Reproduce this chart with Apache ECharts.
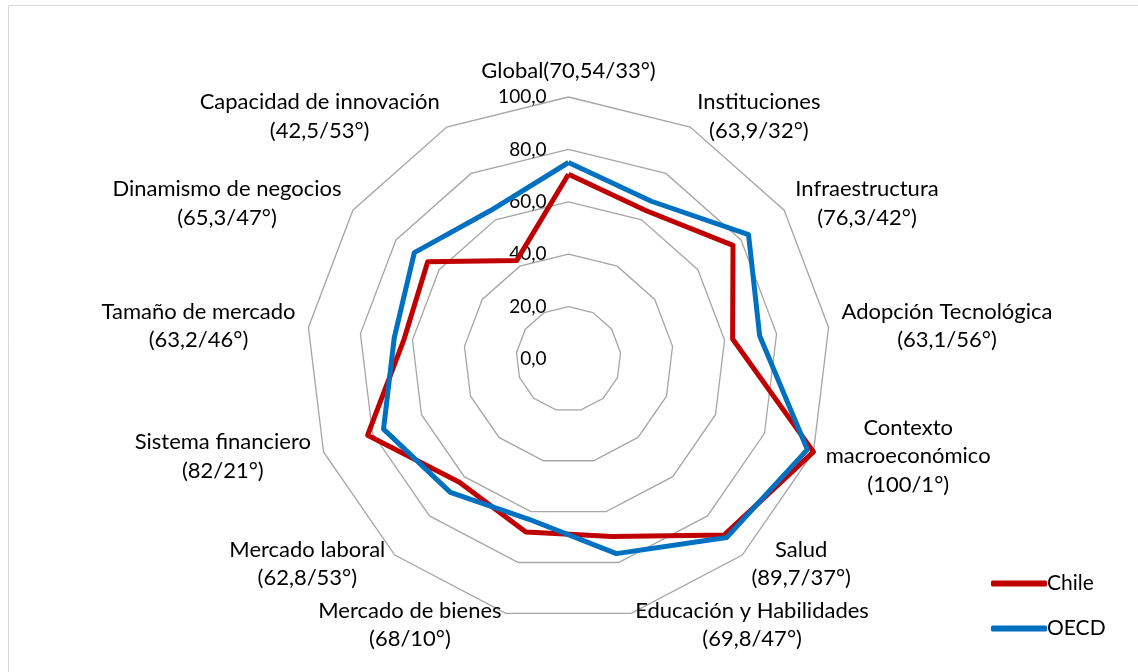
<!DOCTYPE html>
<html>
<head>
<meta charset="utf-8">
<script src="https://cdn.jsdelivr.net/npm/echarts@6/dist/echarts.min.js"></script>
<style>
html,body{margin:0;padding:0;background:#fff;}
#c{width:1138px;height:672px;}
</style>
</head>
<body>
<div id="c"></div>
<script>
// Categories in clockwise order starting at the top
var categories = [
  'Global(70,54/33°)',
  'Instituciones\n(63,9/32°)',
  'Infraestructura\n(76,3/42°)',
  'Adopción Tecnológica\n(63,1/56°)',
  'Contexto\nmacroeconómico\n(100/1°)',
  'Salud\n(89,7/37°)',
  'Educación y Habilidades\n(69,8/47°)',
  'Mercado de bienes\n(68/10°)',
  'Mercado laboral\n(62,8/53°)',
  'Sistema financiero\n(82/21°)',
  'Tamaño de mercado\n(63,2/46°)',
  'Dinamismo de negocios\n(65,3/47°)',
  'Capacidad de innovación\n(42,5/53°)'
];
var chileValues = [70.54, 63.9, 76.3, 63.1, 100, 89.7, 69.8, 68, 62.8, 82, 63.2, 65.3, 42.5];
var oecdValues  = [75, 68, 83.5, 73.5, 97.5, 91, 76.5, 63, 68, 75.5, 67, 71.5, 64];
var seriesNames = ['Chile', 'OECD'];
var axisMin = 0, axisMax = 100, axisSplits = 5;

var FONT = 'Lato';
var NAME_SIZE = 22;
var canvas = document.createElement('canvas');
var ctx = canvas.getContext('2d');
ctx.font = NAME_SIZE + 'px ' + FONT;

// ECharts radar lays indicators counter-clockwise; reorder to get clockwise
var order = [0];
for (var i = categories.length - 1; i >= 1; i--) order.push(i);

var rich = {};
var indicators = order.map(function (idx, k) {
  var lines = categories[idx].split('\n');
  var w = 0;
  lines.forEach(function (l) { w = Math.max(w, ctx.measureText(l).width); });
  rich['r' + idx] = { width: Math.ceil(w) + 2, align: 'center', fontFamily: FONT, fontSize: NAME_SIZE, color: '#000', lineHeight: 28.5 };
  var ind = { name: categories[idx], min: axisMin, max: axisMax, key: idx };
  if (k === 0) {
    ind.axisLabel = { show: true };
  }
  return ind;
});

function reorder(arr) { return order.map(function (i) { return arr[i]; }); }

var chart = echarts.init(document.getElementById('c'), null, { renderer: 'canvas' });
chart.setOption({
  backgroundColor: '#fff',
  animation: false,
  graphic: [{
    type: 'rect', shape: { x: 8.5, y: 5.5, width: 1200, height: 800 },
    style: { fill: 'none', stroke: '#D9D9D9', lineWidth: 1 }, silent: true, z: -1
  }],
  legend: {
    orient: 'vertical',
    left: 986, top: 568,
    itemWidth: 56, itemHeight: 6,
    itemGap: 24,
    icon: 'roundRect',
    textStyle: { fontFamily: FONT, fontSize: 21, color: '#000', padding: [0, 0, 0, -5] },
    data: seriesNames
  },
  radar: {
    center: [568.5, 359],
    radius: 262,
    shape: 'polygon',
    splitNumber: axisSplits,
    indicator: indicators,
    axisLine: { show: false },
    splitArea: { show: false },
    splitLine: { lineStyle: { color: '#A6A6A6', width: 1.3 } },
    axisTick: { show: false },
    axisLabel: {
      show: false,
      margin: 22,
      fontFamily: FONT, fontSize: 19, color: '#000',
      formatter: function (v) { return v.toFixed(1).replace('.', ','); }
    },
    nameGap: 12,
    axisName: {
      color: '#000', fontFamily: FONT, fontSize: NAME_SIZE,
      formatter: function (name) {
        var idx = categories.indexOf(name);
        return name.split('\n').map(function (l) { return '{r' + idx + '|' + l + '}'; }).join('\n');
      },
      rich: rich
    }
  },
  series: [{
    type: 'radar',
    symbol: 'none',
    data: [
      { name: seriesNames[0], value: reorder(chileValues),
        lineStyle: { color: '#C00000', width: 5, join: 'round' }, itemStyle: { color: '#C00000' } },
      { name: seriesNames[1], value: reorder(oecdValues),
        lineStyle: { color: '#0070C0', width: 5, join: 'round' }, itemStyle: { color: '#0070C0' } }
    ]
  }]
});
</script>
</body>
</html>
